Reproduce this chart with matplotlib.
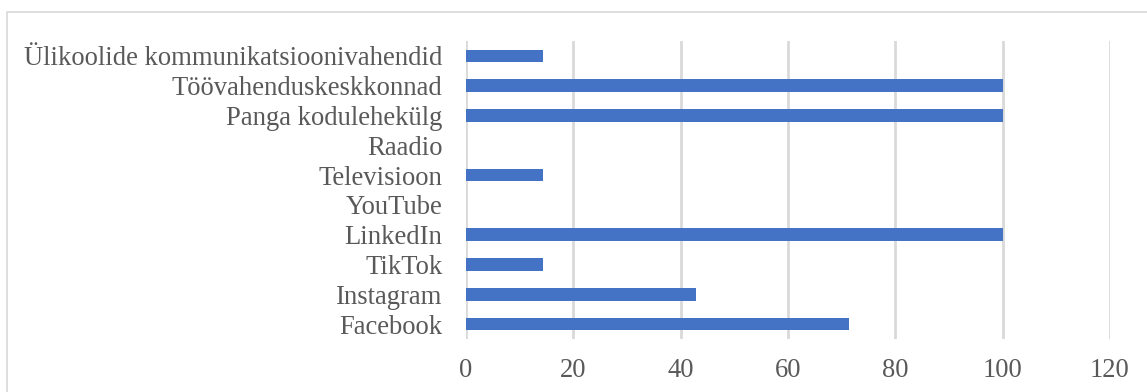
import matplotlib.pyplot as plt
from matplotlib.patches import Rectangle

##-----------------------------------------------------------------------------

categories = ['Facebook', 'Instagram', 'TikTok', 'LinkedIn', 'YouTube',
              'Televisioon', 'Raadio', 'Panga kodulehekülg',
              'Töövahenduskeskkonnad', 'Ülikoolide kommunikatsioonivahendid']
values = [71.4, 42.9, 14.3, 100, 0, 14.3, 0, 100, 100, 14.3]
xticks = [0, 20, 40, 60, 80, 100, 120]

##-----------------------------------------------------------------------------

plt.rcParams['font.family'] = ['Liberation Serif', 'DejaVu Serif']

fig = plt.figure(figsize = (11.47, 3.92), dpi = 100)
ax = fig.add_axes([466/1147, 53/392, (1110 - 466)/1147, (339 - 41)/392])

ax.barh(range(len(categories)), values, height = 0.42, color = '#4472C4',
        linewidth = 0, zorder = 3)

ax.set_xlim(0, 120)
ax.set_ylim(-0.5, len(categories) - 0.5)
ax.set_xticks(xticks)
ax.set_yticks(range(len(categories)))
ax.set_yticklabels(categories)
ax.tick_params(axis = 'both', length = 0, labelsize = 19.2, labelcolor = '#595959')
ax.tick_params(axis = 'y', pad = 17)
ax.tick_params(axis = 'x', pad = 14)

ax.grid(axis = 'x', color = '#d9d9d9', linewidth = 2, zorder = 0)
for s in ax.spines.values():
    s.set_visible(False)

## рамка области диаграммы
fig.patches.append(Rectangle((7/1147, -0.1), 1.2, (392 - 12)/392 + 0.1,
                             transform = fig.transFigure, fill = False,
                             edgecolor = '#d9d9d9', linewidth = 1.2))

fig.savefig('out.png', dpi = 100)
